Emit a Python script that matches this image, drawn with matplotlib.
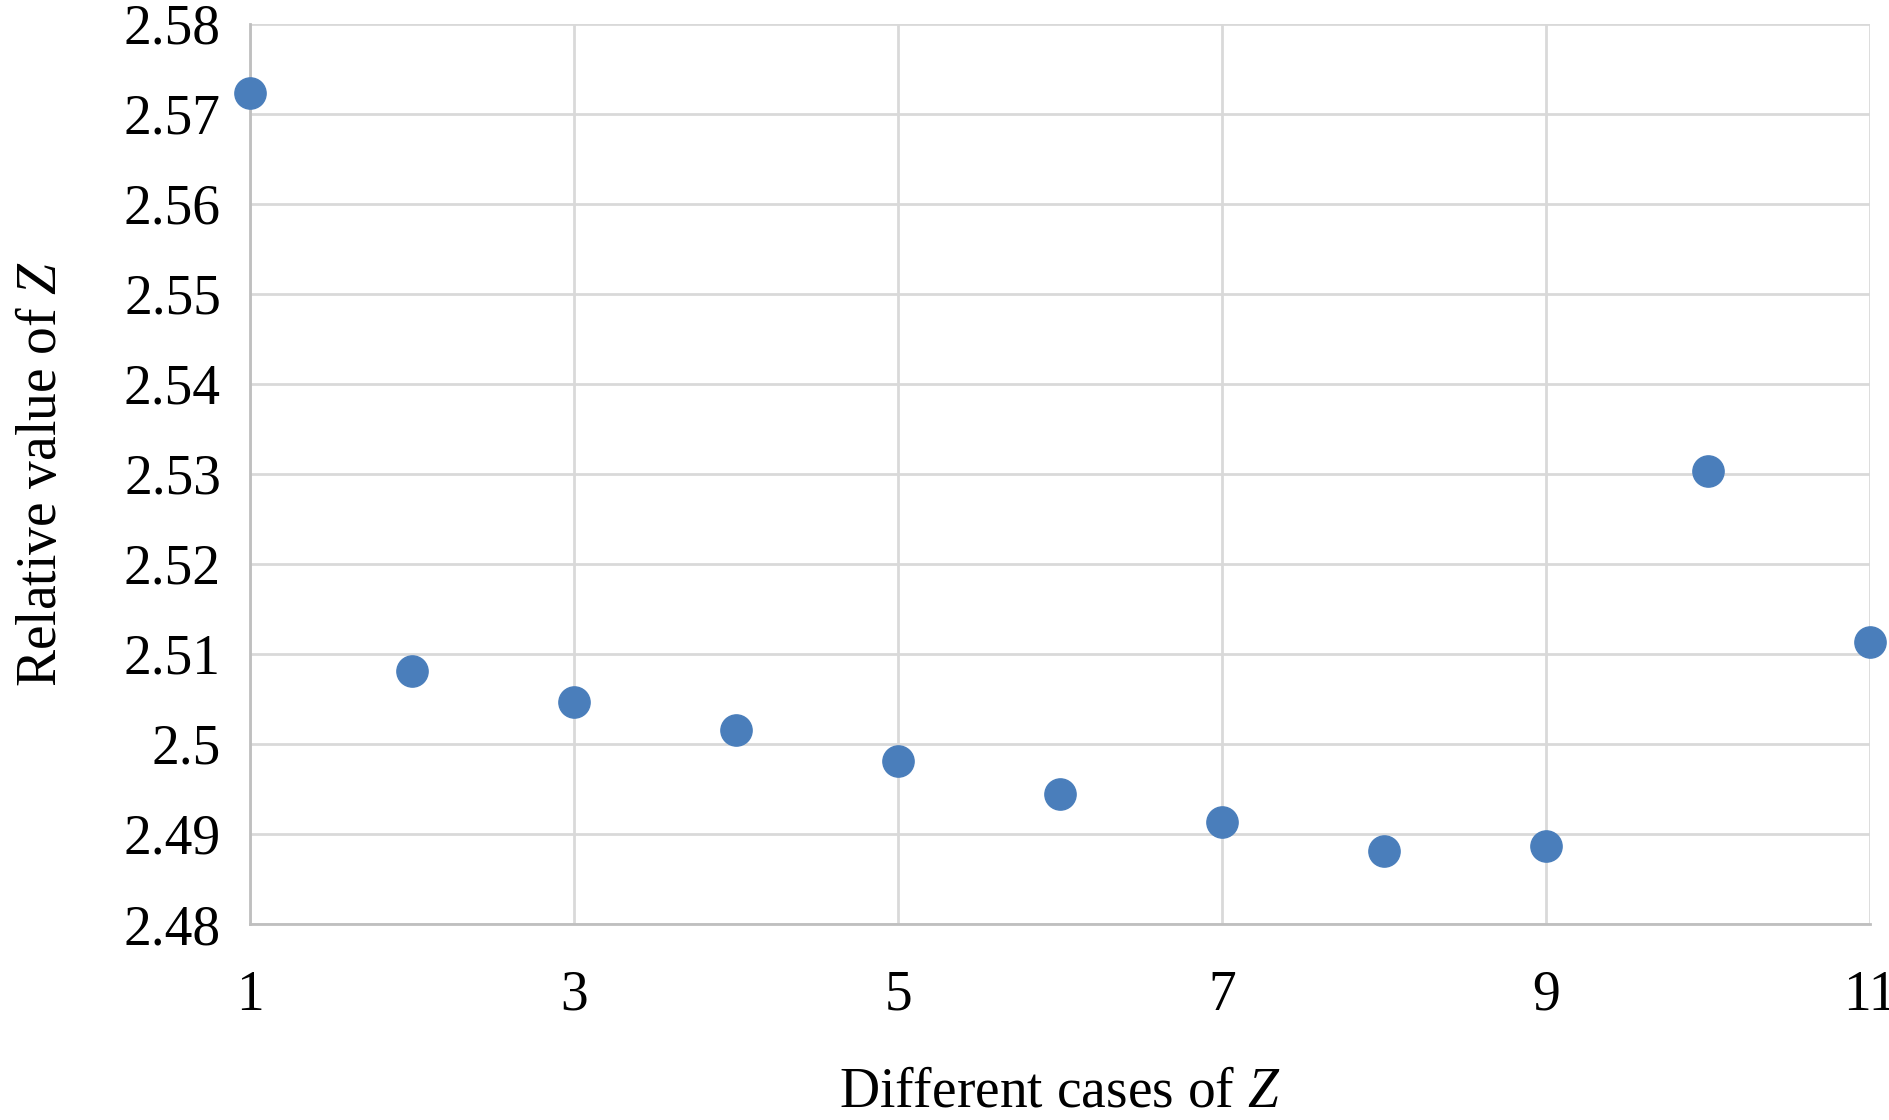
#  scatter of relative Z values

import numpy as np
import matplotlib.pyplot as plt

plt.rcParams['font.family'] = ['Liberation Serif', 'DejaVu Serif']
plt.rcParams['mathtext.fontset'] = 'custom'
plt.rcParams['mathtext.it'] = 'Liberation Serif:italic'
plt.rcParams['mathtext.rm'] = 'Liberation Serif'

cases = [1, 2, 3, 4, 5, 6, 7, 8, 9, 10, 11]
z_rel = [2.5723, 2.5081, 2.5047, 2.5015, 2.4981, 2.4944, 2.4913, 2.4881, 2.4887, 2.5303, 2.5113]

xticks = [1, 3, 5, 7, 9, 11]
yticks = [2.48, 2.49, 2.50, 2.51, 2.52, 2.53, 2.54, 2.55, 2.56, 2.57, 2.58]
ytick_labels = ['2.48', '2.49', '2.5', '2.51', '2.52', '2.53', '2.54', '2.55', '2.56', '2.57', '2.58']

fig = plt.figure(figsize=(18.9, 11.2), dpi=100)
ax = fig.add_axes([0.1323, 0.175, 0.8571, 0.8036])

ax.plot(cases, z_rel, 'o', color='#4a7ebb', markersize=22.5, clip_on=False, zorder=3)

ax.set_xlim(1, 11)
ax.set_ylim(2.48, 2.58)
ax.set_xticks(xticks)
ax.set_yticks(yticks)
ax.set_yticklabels(ytick_labels)
ax.grid(True, color='#d9d9d9', linewidth=2)
ax.set_axisbelow(True)

for s in ['top', 'right']:
	ax.spines[s].set_visible(False)
for s in ['left', 'bottom']:
	ax.spines[s].set_color('#bfbfbf')
	ax.spines[s].set_linewidth(2)

ax.tick_params(length=0, labelsize=40)
ax.tick_params(axis='y', pad=21)
ax.tick_params(axis='x', pad=33)

ax.set_xlabel('Different cases of $Z$', fontsize=40, labelpad=32)
ax.set_ylabel('Relative value of $Z$', fontsize=40, labelpad=40)

fig.savefig('out.png', dpi=100)
